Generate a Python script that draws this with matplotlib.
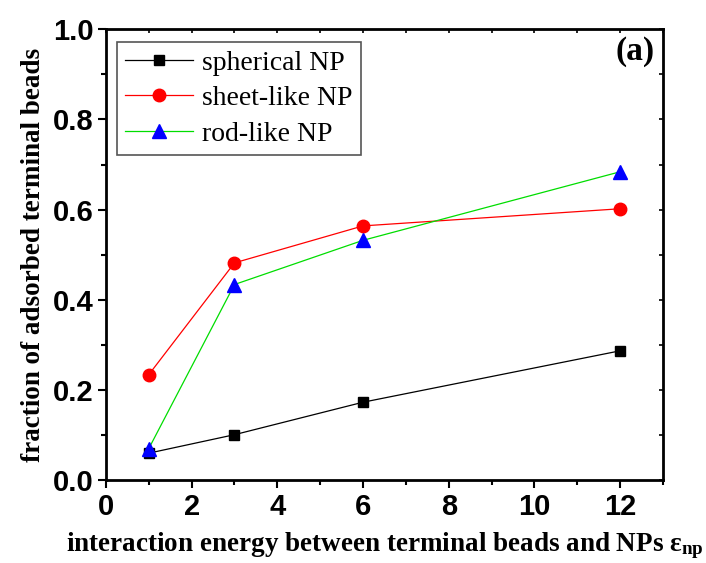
import matplotlib
matplotlib.use('Agg')
import matplotlib.pyplot as plt
from matplotlib.ticker import MultipleLocator, FormatStrFormatter

plt.rcParams['mathtext.fontset'] = 'custom'
plt.rcParams['mathtext.bf'] = 'Liberation Serif:bold'
plt.rcParams['mathtext.rm'] = 'Liberation Serif:bold'
plt.rcParams['mathtext.it'] = 'Liberation Serif:bold'

# datos
energia = [1, 3, 6, 12]
esferica = [0.060, 0.101, 0.173, 0.287]
lamina = [0.234, 0.482, 0.564, 0.602]
varilla = [0.070, 0.434, 0.532, 0.684]

etiquetas = ['spherical NP', 'sheet-like NP', 'rod-like NP']

fig = plt.figure(figsize=(7.06, 5.63), dpi=100)
ax = fig.add_axes([0.150, 0.147, 0.789, 0.801])

ax.plot(energia, esferica, color='black', lw=0.9, marker='s', ms=7.5,
        mfc='black', mec='black', label=etiquetas[0])
ax.plot(energia, lamina, color='red', lw=0.9, marker='o', ms=9,
        mfc='red', mec='red', label=etiquetas[1])
ax.plot(energia, varilla, color='#00dd00', lw=0.9, marker='^', ms=9.5,
        mfc='blue', mec='blue', label=etiquetas[2])

ax.set_xlim(0, 13)
ax.set_ylim(0, 1.0)
ax.xaxis.set_major_locator(MultipleLocator(2))
ax.xaxis.set_minor_locator(MultipleLocator(1))
ax.yaxis.set_major_locator(MultipleLocator(0.2))
ax.yaxis.set_minor_locator(MultipleLocator(0.1))
ax.yaxis.set_major_formatter(FormatStrFormatter('%.1f'))

for s in ax.spines.values():
    s.set_linewidth(2)

ax.tick_params(which='both', direction='out', top=False, right=False, width=1.5)
ax.tick_params(which='major', length=6, pad=3)
ax.tick_params(which='minor', length=3.5)
# marcas interiores arriba y a la derecha
ax2 = ax.secondary_xaxis('top')
ax2.xaxis.set_major_locator(MultipleLocator(1))
ax2.tick_params(direction='in', length=3, width=1.2, labeltop=False)
ax3 = ax.secondary_yaxis('right')
ax3.yaxis.set_major_locator(MultipleLocator(0.1))
ax3.tick_params(direction='in', length=3, width=1.2, labelright=False)

for lab in ax.get_xticklabels() + ax.get_yticklabels():
    lab.set_family(['Liberation Sans', 'DejaVu Sans'])
    lab.set_fontweight('bold')
    lab.set_fontsize(21)

ax.set_xlabel(r'interaction energy between terminal beads and NPs $\mathbf{\varepsilon_{np}}$',
              family='Liberation Serif', fontweight='bold', fontsize=19.5, labelpad=7)
ax.set_ylabel('fraction of adsorbed terminal beads',
              family='Liberation Serif', fontweight='bold', fontsize=19.5, labelpad=5)

ax.text(0.985, 0.985, '(a)', transform=ax.transAxes, ha='right', va='top',
        family='Liberation Serif', fontweight='bold', fontsize=24)

leg = ax.legend(loc='upper left', bbox_to_anchor=(0.02, 0.972), fancybox=False,
                edgecolor='#555555', framealpha=1,
                prop={'family': 'Liberation Serif', 'size': 20},
                handlelength=2.45, handletextpad=0.3, borderpad=0.3, labelspacing=0.36,
                borderaxespad=0)
leg.get_frame().set_linewidth(1.2)

fig.savefig('out.png', dpi=100)
